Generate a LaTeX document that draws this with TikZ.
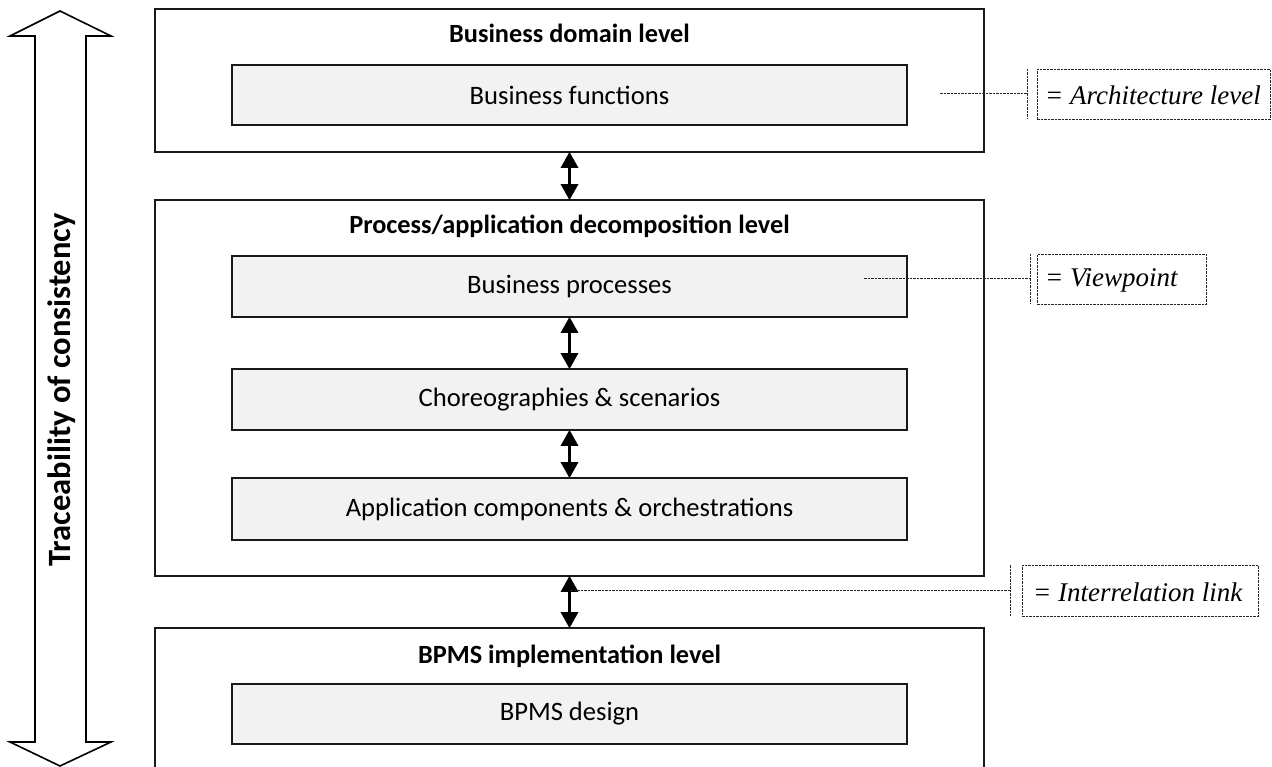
\documentclass[tikz,border=0pt]{standalone}
\usepackage{fontspec}
\setmainfont{Carlito}
\newfontfamily\legendfont{Liberation Serif}
\usetikzlibrary{arrows.meta}
\definecolor{boxfill}{HTML}{F2F2F2}
\begin{document}
\begin{tikzpicture}[x=1pt,y=-1pt,
  levelbox/.style={draw=black!90,line width=1.6pt,fill=white,minimum width=829pt,inner sep=0pt},
  viewbox/.style={draw=black!90,line width=1.6pt,fill=boxfill,minimum width=675pt,inner sep=0pt,font=\fontsize{26.6}{31}\selectfont},
  leveltitle/.style={font=\fontsize{26.3}{31}\selectfont\bfseries},
  link/.style={line width=3pt,{Triangle[length=16pt,width=17pt]}-{Triangle[length=16pt,width=17pt]},shorten <=-1pt,shorten >=-1pt},
  legendline/.style={draw=black!85,line width=0.9pt,dash pattern=on 2.5pt off 1pt},
  legendbox/.style={legendline,inner sep=0pt,anchor=north west},
  legendtext/.style={inner sep=0pt,anchor=west,font=\legendfont\itshape\fontsize{27}{32}\selectfont},
  bigarrow/.style={draw=black,line width=1.6pt,fill=white,line join=miter}]
\useasboundingbox (0,0) rectangle (1272,767);
\clip (0,0) rectangle (1272,767);

% traceability arrow
\draw[bigarrow] (60,11) -- (111,36) -- (86,36) -- (86,742) -- (111,742) -- (60,766)
  -- (10,742) -- (35,742) -- (35,36) -- (10,36) -- cycle;
\node (trace) [rotate=90,font=\fontsize{32.5}{38}\selectfont\bfseries] at (62,390) {Traceability of consistency};

% architecture levels
\node (domain) [levelbox,minimum height=143pt] at (569.5,80.5) {};
\node (process) [levelbox,minimum height=376pt] at (569.5,388) {};
\node (bpms) [levelbox,minimum height=172pt] at (569.5,714) {};

\node (domainT) [leveltitle] at (569.5,33) {Business domain level};
\node (processT) [leveltitle] at (569.5,226) {Process/application decomposition level};
\node (bpmsT) [leveltitle] at (569.5,656) {BPMS implementation level};

% viewpoints
\node (bf) [viewbox,minimum height=60pt] at (569.5,95) {Business functions};
\node (bp) [viewbox,minimum height=61pt] at (569.5,286.5) {Business processes};
\node (cs) [viewbox,minimum height=61pt] at (569.5,399.5) {Choreographies \& scenarios};
\node (ac) [viewbox,minimum height=62pt] at (569.5,509) {Application components \& orchestrations};
\node (bd) [viewbox,minimum height=60pt] at (569.5,714) {BPMS design};

% interrelation links
\draw[link] (domain.south) -- (process.north);
\draw[link] (bp.south) -- (cs.north);
\draw[link] (cs.south) -- (ac.north);
\draw[link] (process.south) -- (bpms.north);

% legend boxes and their texts
\node (lgArch) [legendbox,minimum width=233pt,minimum height=50pt] at (1037,69) {};
\node (lgView) [legendbox,minimum width=169pt,minimum height=50pt] at (1037,254) {};
\node (lgLink) [legendbox,minimum width=236pt,minimum height=51pt] at (1022,565) {};
\node (lgArchT) [legendtext] at ([xshift=8pt,yshift=-1pt]lgArch.west) {= Architecture level};
\node (lgViewT) [legendtext] at ([xshift=8pt,yshift=-1pt]lgView.west) {= Viewpoint};
\node (lgLinkT) [legendtext] at ([xshift=11pt,yshift=-1pt]lgLink.west) {= Interrelation link};

\coordinate (archEnd) at (1027,93);
\coordinate (viewEnd) at (1030,278);
\coordinate (linkEnd) at (1010,590);
\coordinate (archStart) at (940,93);
\coordinate (viewStart) at (864,278);
\coordinate (linkStart) at (570,590);

\draw[legendline] (1027,69) -- (1027,119);
\draw[legendline] (1030,254) -- (1030,304);
\draw[legendline] (1010,565) -- (1010,616);
\draw[legendline] (archStart) -- (archEnd);
\draw[legendline] (viewStart) -- (viewEnd);
\draw[legendline] (linkStart) -- (linkEnd);
\end{tikzpicture}
\end{document}
